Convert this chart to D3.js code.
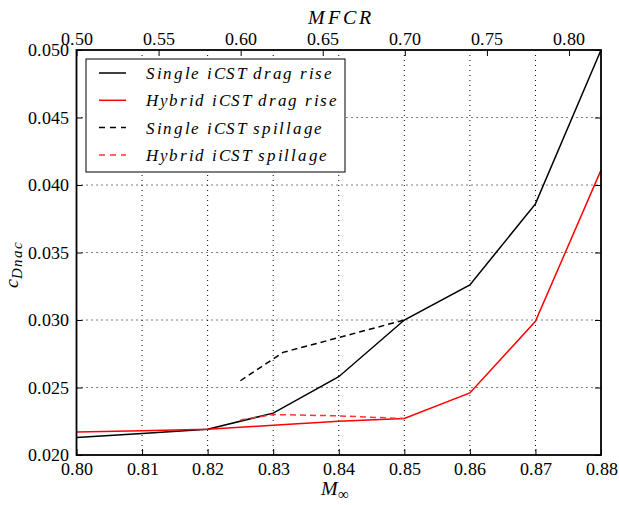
<html><head><meta charset="utf-8"><script src="https://cdn.jsdelivr.net/npm/d3@7"></script>
<style>
@font-face { font-family: "PlotSerif"; src: local("Liberation Serif"), local("LiberationSerif"), local("LiberationSerif-Regular"); font-style: normal; }
@font-face { font-family: "PlotSerif"; src: local("Liberation Serif Italic"), local("LiberationSerif-Italic"); font-style: italic; }
</style>
</head>
<body style="margin:0">
<div id="chart"></div>
<script>
// data
var singleRiseM = [0.80, 0.81, 0.82, 0.83, 0.84, 0.85, 0.86, 0.87, 0.88];
var singleRise = [0.0213, 0.0216, 0.0219, 0.0231, 0.0258, 0.0300, 0.0326, 0.0386, 0.0500];
var hybridRiseM = [0.80, 0.81, 0.82, 0.83, 0.84, 0.85, 0.86, 0.87, 0.88];
var hybridRise = [0.0217, 0.0218, 0.0219, 0.0222, 0.0225, 0.0227, 0.0246, 0.0299, 0.0411];
var singleSpillM = [0.825, 0.8315, 0.84, 0.85];
var singleSpill = [0.0255, 0.0276, 0.0287, 0.0300];
var hybridSpillM = [0.825, 0.83, 0.84, 0.85];
var hybridSpill = [0.0226, 0.0230, 0.0229, 0.0227];
var xTicks = [0.80, 0.81, 0.82, 0.83, 0.84, 0.85, 0.86, 0.87, 0.88];
var yTicks = [0.020, 0.025, 0.030, 0.035, 0.040, 0.045, 0.050];
var topTicks = [0.50, 0.55, 0.60, 0.65, 0.70, 0.75, 0.80];
var legendNames = ["Single iCST drag rise", "Hybrid iCST drag rise", "Single iCST spillage", "Hybrid iCST spillage"];

var FONT = "PlotSerif, 'Liberation Serif', 'Times New Roman', serif";
var W = 619, H = 505;
var margin = {top: 50, right: 18, bottom: 50, left: 76.5};
var width = W - margin.left - margin.right,
	height = H - margin.top - margin.bottom;

var svg = d3.select("#chart").append("svg")
	.attr("width", W)
	.attr("height", H)
	.attr("font-family", FONT);

var g = svg.append("g")
	.attr("transform", "translate(" + margin.left + "," + margin.top + ")");

var x = d3.scaleLinear().domain([0.80, 0.88]).range([0, width]);
var y = d3.scaleLinear().domain([0.020, 0.050]).range([height, 0]);
var xTop = d3.scaleLinear().domain([0.50, 0.8195]).range([0, width]);

// grid
g.append("g").selectAll("line").data(xTicks.slice(1, -1)).enter().append("line")
	.attr("x1", function(d) { return x(d); }).attr("x2", function(d) { return x(d); })
	.attr("y1", 0).attr("y2", height)
	.attr("stroke", "#000").attr("stroke-width", 1).attr("stroke-dasharray", "1,4");
g.append("g").selectAll("line").data(yTicks.slice(1, -1)).enter().append("line")
	.attr("y1", function(d) { return y(d); }).attr("y2", function(d) { return y(d); })
	.attr("x1", 0).attr("x2", width)
	.attr("stroke", "#000").attr("stroke-width", 1).attr("stroke-dasharray", "1,4");

// axes, ticks pointing inward
function styleAxis(sel) {
	sel.attr("font-family", FONT);
	sel.select(".domain").remove();
	sel.selectAll("text").attr("fill", "#000").style("font-family", FONT).attr("font-size", 17.5);
	sel.selectAll(".tick line").attr("stroke", "#000").attr("stroke-width", 1);
}
g.append("g").attr("transform", "translate(0," + height + ")")
	.call(d3.axisBottom(x).tickValues(xTicks).tickFormat(d3.format(".2f")).tickSizeInner(-6).tickPadding(8))
	.call(styleAxis);
g.append("g")
	.call(d3.axisLeft(y).tickValues(yTicks).tickFormat(d3.format(".3f")).tickSizeInner(-6).tickPadding(8))
	.call(styleAxis);
g.append("g").attr("transform", "translate(" + width + ",0)")
	.call(d3.axisRight(y).tickValues(yTicks).tickFormat("").tickSizeInner(-6))
	.call(styleAxis);
g.append("g")
	.call(d3.axisTop(xTop).tickValues(topTicks).tickFormat(d3.format(".2f")).tickSizeInner(-6).tickPadding(5))
	.call(styleAxis);

// data lines
var line = d3.line()
	.x(function(d) { return x(d[0]); })
	.y(function(d) { return y(d[1]); });
var series = [
	{m: singleRiseM, v: singleRise, color: "#000", dash: null},
	{m: hybridRiseM, v: hybridRise, color: "#ff0000", dash: null},
	{m: singleSpillM, v: singleSpill, color: "#000", dash: "6,4"},
	{m: hybridSpillM, v: hybridSpill, color: "#ff3333", dash: "6,4"}
];
var plot = g.append("g");
series.forEach(function(s) {
	plot.append("path")
		.datum(d3.zip(s.m, s.v))
		.attr("fill", "none")
		.attr("stroke", s.color)
		.attr("stroke-width", 1.5)
		.attr("stroke-dasharray", s.dash)
		.attr("d", line);
});

// frame
g.append("rect")
	.attr("width", width).attr("height", height)
	.attr("fill", "none").attr("stroke", "#000").attr("stroke-width", 1.8);

// legend
var lg = g.append("g").attr("transform", "translate(" + (86 - margin.left) + "," + (59 - margin.top) + ")");
lg.append("rect").attr("width", 259).attr("height", 113)
	.attr("fill", "#fff").attr("stroke", "#000").attr("stroke-width", 1);
legendNames.forEach(function(name, i) {
	var yy = 14 + i * 27.3;
	lg.append("line").attr("x1", 13).attr("x2", 40).attr("y1", yy).attr("y2", yy)
		.attr("stroke", series[i].color).attr("stroke-width", 1.5)
		.attr("stroke-dasharray", series[i].dash ? "6,5" : null);
	lg.append("text").attr("x", 60).attr("y", yy + 6)
		.style("font-family", FONT)
		.attr("font-size", 17).attr("font-style", "italic")
		.attr("letter-spacing", "1.7px")
		.text(name);
});

// axis titles
svg.append("text").attr("x", margin.left + width / 2 - 4).attr("y", 495)
	.attr("text-anchor", "middle").style("font-family", FONT).attr("font-size", 20).attr("font-style", "italic")
	.text("M").append("tspan").attr("dy", 4).attr("font-size", 15).attr("font-style", "normal").text("∞");
svg.append("text").attr("x", 341).attr("y", 24)
	.attr("text-anchor", "middle").style("font-family", FONT).attr("font-size", 20).attr("font-style", "italic")
	.attr("letter-spacing", "3px")
	.text("MFCR");
var yl = svg.append("text").attr("transform", "translate(18,264) rotate(-90)")
	.attr("text-anchor", "middle").style("font-family", FONT).attr("font-size", 20).attr("font-style", "italic");
yl.append("tspan").text("c");
yl.append("tspan").attr("dy", 4).attr("font-size", 15).attr("letter-spacing", "1px").text("Dnac");
</script>
</body></html>
